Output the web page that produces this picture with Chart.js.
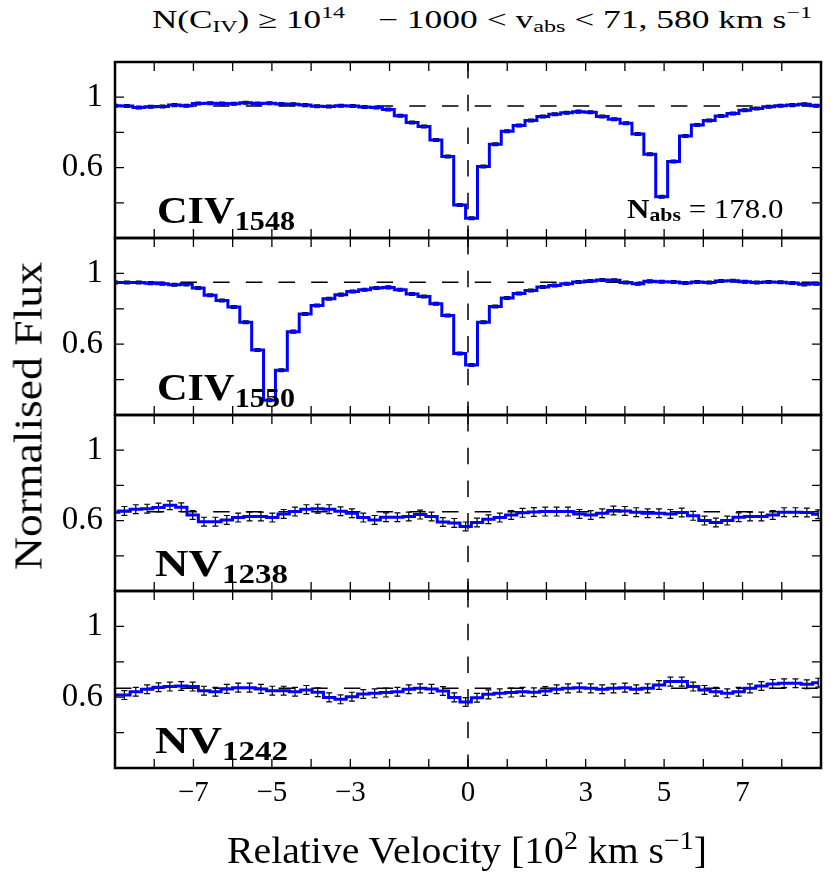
<!DOCTYPE html>
<html>
<head>
<meta charset="utf-8">
<script src="https://cdn.jsdelivr.net/npm/chart.js@4.4.0/dist/chart.umd.min.js"></script>
<style>
  body { margin: 0; background: #fff; }
  #wrap { position: relative; width: 831px; height: 883px; overflow: hidden; font-family: "Liberation Serif", serif; color: #000; }
  #wrap canvas { position: absolute; left: 0; }
  .txt { position: absolute; white-space: nowrap; line-height: 1; transform-origin: 0 0; }
  .txt sub, .txt sup { line-height: 0; }
  .b { font-weight: bold; }
</style>
</head>
<body>
<div id="wrap">
  <canvas id="p1548" width="831" height="196"></canvas>
  <canvas id="p1550" width="831" height="197"></canvas>
  <canvas id="p1238" width="831" height="196"></canvas>
  <canvas id="p1242" width="831" height="247"></canvas>

  <div class="txt" data-fs="25" data-left="152" data-base="28" data-w="193">N(C<sub style="font-size:17px;vertical-align:-4px">IV</sub>) ≥ 10<sup style="font-size:17px;vertical-align:10px">14</sup></div>
  <div class="txt" data-fs="25" data-left="378" data-base="28" data-w="434">− 1000 &lt; v<sub style="font-size:17px;vertical-align:-4px">abs</sub> &lt; 71, 580 km s<sup style="font-size:17px;vertical-align:10px">−1</sup></div>

  <div class="txt b" data-fs="38" data-left="156.7" data-base="223.3" data-w="138">CIV<sub style="font-size:27px;vertical-align:-7px">1548</sub></div>
  <div class="txt b" data-fs="38" data-left="156.7" data-base="399.8" data-w="138">CIV<sub style="font-size:27px;vertical-align:-7px">1550</sub></div>
  <div class="txt b" data-fs="38" data-left="155" data-base="576.3" data-w="133">NV<sub style="font-size:27px;vertical-align:-7px">1238</sub></div>
  <div class="txt b" data-fs="38" data-left="155" data-base="752.8" data-w="133">NV<sub style="font-size:27px;vertical-align:-7px">1242</sub></div>
  <div class="txt" data-fs="27" data-left="626.7" data-base="218.3" data-w="156.6"><b>N</b><sub style="font-size:19px;vertical-align:-3px"><b>abs</b></sub> = 178.0</div>

  <div class="txt" data-fs="37" data-left="226.7" data-base="863" data-w="480">Relative Velocity [10<sup style="font-size:26px;vertical-align:14px">2</sup> km s<sup style="font-size:26px;vertical-align:14px">−1</sup>]</div>
  <div class="txt" id="ylab" data-fs="39" data-w="308" style="transform-origin:50% 50%">Normalised Flux</div>
</div>

<script>
// velocidades (10^2 km/s) dos centros dos pixels
const velCIV = [-9.000, -8.697, -8.394, -8.091, -7.788, -7.485, -7.182, -6.879, -6.576, -6.273,
  -5.970, -5.667, -5.364, -5.061, -4.758, -4.455, -4.152, -3.849, -3.546, -3.243,
  -2.940, -2.637, -2.334, -2.031, -1.728, -1.425, -1.122, -0.819, -0.516, -0.213,
  0.090, 0.393, 0.696, 0.999, 1.302, 1.605, 1.908, 2.211, 2.514, 2.817,
  3.120, 3.423, 3.726, 4.029, 4.332, 4.635, 4.938, 5.241, 5.544, 5.847,
  6.150, 6.453, 6.756, 7.059, 7.362, 7.665, 7.968, 8.271, 8.574, 8.877, 9.180];

const velNV = [-9.05, -8.76, -8.47, -8.18, -7.89, -7.60, -7.31, -7.02, -6.73, -6.44,
  -6.15, -5.86, -5.57, -5.28, -4.99, -4.70, -4.41, -4.12, -3.83, -3.54,
  -3.25, -2.96, -2.67, -2.38, -2.09, -1.80, -1.51, -1.22, -0.93, -0.64,
  -0.35, -0.06, 0.23, 0.52, 0.81, 1.10, 1.39, 1.68, 1.97, 2.26,
  2.55, 2.84, 3.13, 3.42, 3.71, 4.00, 4.29, 4.58, 4.87, 5.16,
  5.45, 5.74, 6.03, 6.32, 6.61, 6.90, 7.19, 7.48, 7.77, 8.06,
  8.35, 8.64, 8.93];

// fluxo normalizado empilhado
const flux1548 = [0.951, 0.950, 0.942, 0.946, 0.947, 0.955, 0.951, 0.964, 0.965, 0.964,
  0.963, 0.968, 0.964, 0.965, 0.962, 0.960, 0.955, 0.948, 0.947, 0.951,
  0.950, 0.944, 0.942, 0.930, 0.894, 0.856, 0.833, 0.757, 0.663, 0.388,
  0.312, 0.606, 0.733, 0.806, 0.839, 0.867, 0.890, 0.903, 0.912, 0.918,
  0.915, 0.890, 0.875, 0.852, 0.791, 0.676, 0.435, 0.634, 0.780, 0.842,
  0.867, 0.893, 0.907, 0.926, 0.936, 0.946, 0.951, 0.955, 0.960, 0.951, 0.950];

const flux1550 = [0.949, 0.949, 0.949, 0.945, 0.942, 0.936, 0.938, 0.918, 0.876, 0.847,
  0.810, 0.724, 0.567, 0.283, 0.453, 0.671, 0.771, 0.819, 0.857, 0.880,
  0.898, 0.908, 0.918, 0.921, 0.908, 0.884, 0.870, 0.828, 0.762, 0.548,
  0.482, 0.724, 0.813, 0.861, 0.886, 0.904, 0.923, 0.932, 0.942, 0.951,
  0.957, 0.963, 0.961, 0.948, 0.942, 0.955, 0.953, 0.951, 0.946, 0.951,
  0.948, 0.957, 0.959, 0.953, 0.948, 0.951, 0.950, 0.946, 0.938, 0.942, 0.942];

const flux1238 = [0.648, 0.655, 0.665, 0.668, 0.674, 0.687, 0.676, 0.632, 0.594, 0.594,
  0.604, 0.617, 0.623, 0.623, 0.617, 0.638, 0.651, 0.665, 0.668, 0.665,
  0.653, 0.642, 0.617, 0.604, 0.619, 0.619, 0.623, 0.634, 0.623, 0.592,
  0.587, 0.567, 0.589, 0.608, 0.617, 0.632, 0.644, 0.649, 0.651, 0.651,
  0.651, 0.638, 0.632, 0.642, 0.657, 0.655, 0.648, 0.642, 0.642, 0.638,
  0.646, 0.627, 0.600, 0.589, 0.600, 0.619, 0.623, 0.623, 0.632, 0.648,
  0.648, 0.646, 0.636];

const flux1242 = [0.612, 0.612, 0.631, 0.645, 0.656, 0.660, 0.663, 0.660, 0.637, 0.631,
  0.647, 0.654, 0.654, 0.647, 0.637, 0.637, 0.631, 0.641, 0.628, 0.599,
  0.588, 0.603, 0.618, 0.622, 0.626, 0.631, 0.645, 0.650, 0.647, 0.635,
  0.599, 0.573, 0.597, 0.616, 0.622, 0.626, 0.631, 0.628, 0.635, 0.645,
  0.650, 0.654, 0.650, 0.645, 0.650, 0.654, 0.645, 0.650, 0.669, 0.688,
  0.688, 0.660, 0.641, 0.631, 0.622, 0.631, 0.650, 0.663, 0.675, 0.679,
  0.679, 0.673, 0.682];

// erro típico de cada painel e nível do contínuo
const errCIV = 0.008;
const errNV = 0.025;
const contCIV = 0.95;
const contNV = 0.65;

// eixos
const xTicks = [-9, -8, -7, -6, -5, -4, -3, -2, -1, 0, 1, 2, 3, 4, 5, 6, 7, 8, 9];
const xLabelled = [-7, -5, -3, 0, 3, 5, 7];
const yTicks = [0.2, 0.4, 0.6, 0.8, 1.0, 1.2];
const yLabelled = [1, 0.6];
const yLabelText = ['1', '0.6'];

// bordas dos painéis em pixels da página
const panelEdges = [62, 238, 415, 591, 768];
const PAD = 10;

// Plugin: contínuo, v=0, barras de erro, moldura e ticks para dentro
const panelDecor = {
    id: 'panelDecor',
    beforeDatasetsDraw(chart, args, opts) {
        const { ctx, chartArea: a, scales: { x, y } } = chart;
        ctx.save();
        ctx.beginPath();
        ctx.rect(a.left, a.top, a.right - a.left, a.bottom - a.top);
        ctx.clip();

        ctx.strokeStyle = '#000';
        ctx.lineWidth = 1.5;
        ctx.setLineDash([16.5, 16.2]);
        const yc = y.getPixelForValue(opts.level);
        ctx.beginPath();
        ctx.moveTo(a.left, yc);
        ctx.lineTo(a.right, yc);
        ctx.stroke();
        const x0 = x.getPixelForValue(0);
        ctx.beginPath();
        ctx.moveTo(x0, a.top);
        ctx.lineTo(x0, a.bottom);
        ctx.stroke();
        ctx.setLineDash([]);

        ctx.lineWidth = 1.2;
        chart.data.datasets[0].data.forEach(p => {
            const px = x.getPixelForValue(p.x);
            const y1 = y.getPixelForValue(p.y + opts.err);
            const y2 = y.getPixelForValue(p.y - opts.err);
            ctx.beginPath();
            ctx.moveTo(px, y1); ctx.lineTo(px, y2);
            ctx.moveTo(px - 3, y1); ctx.lineTo(px + 3, y1);
            ctx.moveTo(px - 3, y2); ctx.lineTo(px + 3, y2);
            ctx.stroke();
        });
        ctx.restore();
    },
    afterDatasetsDraw(chart) {
        const { ctx, chartArea: a, scales: { x, y } } = chart;
        ctx.save();
        ctx.strokeStyle = '#000';
        ctx.lineWidth = 1.3;
        const len = 9;
        ctx.beginPath();
        xTicks.forEach(v => {
            if (v <= -9 || v >= 9) return;
            const px = x.getPixelForValue(v);
            ctx.moveTo(px, a.top); ctx.lineTo(px, a.top + len);
            ctx.moveTo(px, a.bottom); ctx.lineTo(px, a.bottom - len);
        });
        yTicks.forEach(v => {
            if (v <= 0.2 || v >= 1.2) return;
            const py = y.getPixelForValue(v);
            ctx.moveTo(a.left, py); ctx.lineTo(a.left + len, py);
            ctx.moveTo(a.right, py); ctx.lineTo(a.right - len, py);
        });
        ctx.stroke();
        ctx.lineWidth = 2.5;
        ctx.strokeRect(a.left, a.top, a.right - a.left, a.bottom - a.top);
        ctx.restore();
    }
};

function renderPanel(id, idx, vel, flux, err, level, isBottom) {
    const canvas = document.getElementById(id);
    canvas.style.top = (panelEdges[idx] - PAD) + 'px';

    return new Chart(canvas, {
        type: 'line',
        data: {
            datasets: [{
                data: vel.map((v, i) => ({ x: v, y: flux[i] })),
                borderColor: '#0000ff',
                borderWidth: 3,
                pointRadius: 0,
                stepped: 'middle',
                fill: false,
                clip: 0
            }]
        },
        options: {
            responsive: false,
            animation: false,
            events: [],
            layout: { padding: { top: PAD, bottom: isBottom ? 0 : PAD, left: 0, right: 10 } },
            plugins: {
                legend: { display: false },
                tooltip: { enabled: false },
                panelDecor: { level: level, err: err }
            },
            scales: {
                x: {
                    type: 'linear',
                    min: -9,
                    max: 9,
                    display: isBottom,
                    afterBuildTicks: s => { s.ticks = xTicks.map(v => ({ value: v })); },
                    afterFit: s => {
                        s.height = isBottom ? 60 : 0;
                        s.paddingLeft = 0;
                        s.paddingRight = 0;
                    },
                    grid: { display: false, drawTicks: false },
                    border: { display: false },
                    ticks: {
                        autoSkip: false,
                        maxRotation: 0,
                        padding: 8,
                        color: '#000',
                        font: { family: 'Liberation Serif', size: 29 },
                        callback: v => xLabelled.includes(v) ? (v < 0 ? '\u2212' + Math.abs(v) : String(v)) : ''
                    }
                },
                y: {
                    type: 'linear',
                    min: 0.2,
                    max: 1.2,
                    afterBuildTicks: s => { s.ticks = yTicks.map(v => ({ value: v })); },
                    afterFit: s => {
                        s.width = 115;
                        s.paddingTop = 0;
                        s.paddingBottom = 0;
                    },
                    grid: { display: false, drawTicks: false },
                    border: { display: false },
                    ticks: {
                        padding: 12,
                        color: '#000',
                        font: { family: 'Liberation Serif', size: 33 },
                        callback: v => {
                            const k = yLabelled.findIndex(t => Math.abs(t - v) < 1e-6);
                            return k >= 0 ? yLabelText[k] : '';
                        }
                    }
                }
            }
        },
        plugins: [panelDecor]
    });
}

function placeTexts() {
    document.querySelectorAll('.txt').forEach(el => {
        const fs = +el.dataset.fs;
        el.style.fontSize = fs + 'px';
        const nat = el.getBoundingClientRect().width;
        const sx = +el.dataset.w / nat;
        if (el.id === 'ylab') {
            el.style.left = '28px';
            el.style.top = '416px';
            el.style.transform = `translate(-50%, -50%) rotate(-90deg) scaleX(${sx})`;
        } else {
            el.style.left = el.dataset.left + 'px';
            el.style.top = (el.dataset.base - 0.8375 * fs) + 'px';
            el.style.transform = `scaleX(${sx})`;
        }
    });
}

placeTexts();
renderPanel('p1548', 0, velCIV, flux1548, errCIV, contCIV, false);
renderPanel('p1550', 1, velCIV, flux1550, errCIV, contCIV, false);
renderPanel('p1238', 2, velNV, flux1238, errNV, contNV, false);
renderPanel('p1242', 3, velNV, flux1242, errNV, contNV, true);
</script>
</body>
</html>
